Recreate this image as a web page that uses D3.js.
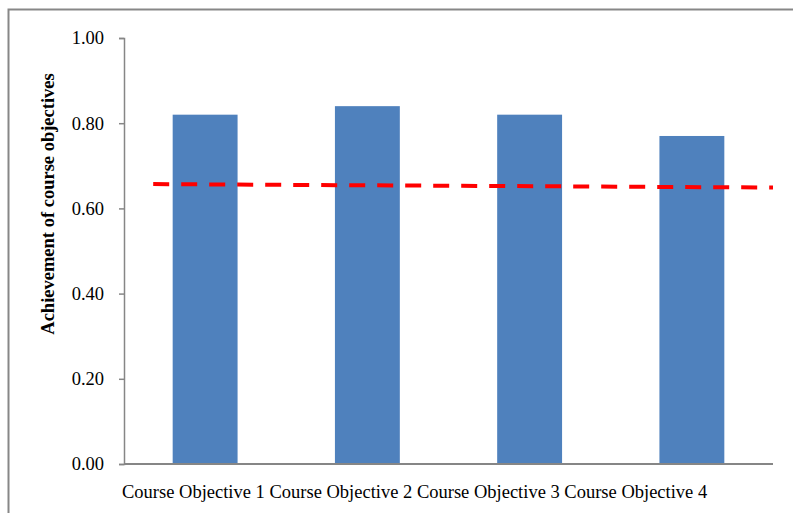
<!DOCTYPE html>
<html>
<head>
<meta charset="utf-8">
<script src="https://cdn.jsdelivr.net/npm/d3@7"></script>
<style>
	body { margin: 0; background: #fff; }
	svg text { font-family: "Liberation Serif", "Times New Roman", serif; fill: #000; }
</style>
</head>
<body>
<div id="chart"></div>
<script>
// chart data
var categories = ["Course Objective 1", "Course Objective 2", "Course Objective 3", "Course Objective 4"];
var achievement = [0.82, 0.84, 0.82, 0.77];
// dashed target/trend line, position given in category units (0 = first category centre)
var trendPos = [-0.32, 3.5];
var trendValues = [0.657, 0.649];
var yTicks = [0, 0.2, 0.4, 0.6, 0.8, 1.0];

var width = 793, height = 513;
var margin = {top: 38, right: 20, bottom: 49, left: 124};
var plotW = 773 - margin.left;
var plotH = 464 - margin.top;

var svg = d3.select("#chart").append("svg")
	.attr("width", width)
	.attr("height", height);

// outer frame
svg.append("rect")
	.attr("x", 8.5)
	.attr("y", 9.5)
	.attr("width", 800)
	.attr("height", 520)
	.attr("fill", "none")
	.attr("stroke", "#878787")
	.attr("stroke-width", 2);

var g = svg.append("g")
	.attr("transform", "translate(" + margin.left + "," + margin.top + ")");

// scales
var x = d3.scaleBand().domain(categories).range([0, plotW]).paddingInner(0.6).paddingOuter(0.3);
var step = plotW / categories.length;
var xPos = d3.scaleLinear().domain([0, 1]).range([step / 2, step * 1.5]);
var y = d3.scaleLinear().domain([0, 1]).range([plotH, 0]);

// bars
g.selectAll("rect.bar")
	.data(achievement)
	.enter().append("rect")
	.attr("class", "bar")
	.attr("x", function(d, i) { return x(categories[i]); })
	.attr("y", function(d) { return y(d); })
	.attr("width", x.bandwidth())
	.attr("height", function(d) { return plotH - y(d); })
	.attr("fill", "#4F81BD");

// y axis
var yAxis = g.append("g")
	.call(d3.axisLeft(y).tickValues(yTicks).tickFormat(d3.format(".2f")).tickSize(5).tickSizeOuter(5).tickPadding(15));
yAxis.select(".domain").attr("stroke", "#868686").attr("stroke-width", 1.5);
yAxis.selectAll(".tick line").attr("stroke", "#868686").attr("stroke-width", 1.5);
yAxis.selectAll("text").attr("font-size", "18.5px").attr("font-family", "Liberation Serif, serif").attr("fill", "#000");

// x axis line
g.append("line")
	.attr("x1", 0)
	.attr("x2", plotW)
	.attr("y1", y(0))
	.attr("y2", y(0))
	.attr("stroke", "#868686")
	.attr("stroke-width", 2);

// dashed line
var trendLine = d3.line()
	.x(function(d) { return xPos(d[0]); })
	.y(function(d) { return y(d[1]); });
g.append("path")
	.datum(d3.zip(trendPos, trendValues))
	.attr("d", trendLine)
	.attr("fill", "none")
	.attr("stroke", "#FF0000")
	.attr("stroke-width", 4)
	.attr("stroke-dasharray", "16, 12");

// category labels (packed on one line as in the original)
svg.append("text")
	.attr("x", 122)
	.attr("y", 498)
	.attr("font-size", "18.5px")
	.text(categories.join(" "));

// y axis title
svg.append("text")
	.attr("transform", "translate(54," + 204 + ") rotate(-90)")
	.attr("text-anchor", "middle")
	.attr("font-size", "18.5px")
	.attr("font-weight", "bold")
	.text("Achievement of course objectives");
</script>
</body>
</html>
